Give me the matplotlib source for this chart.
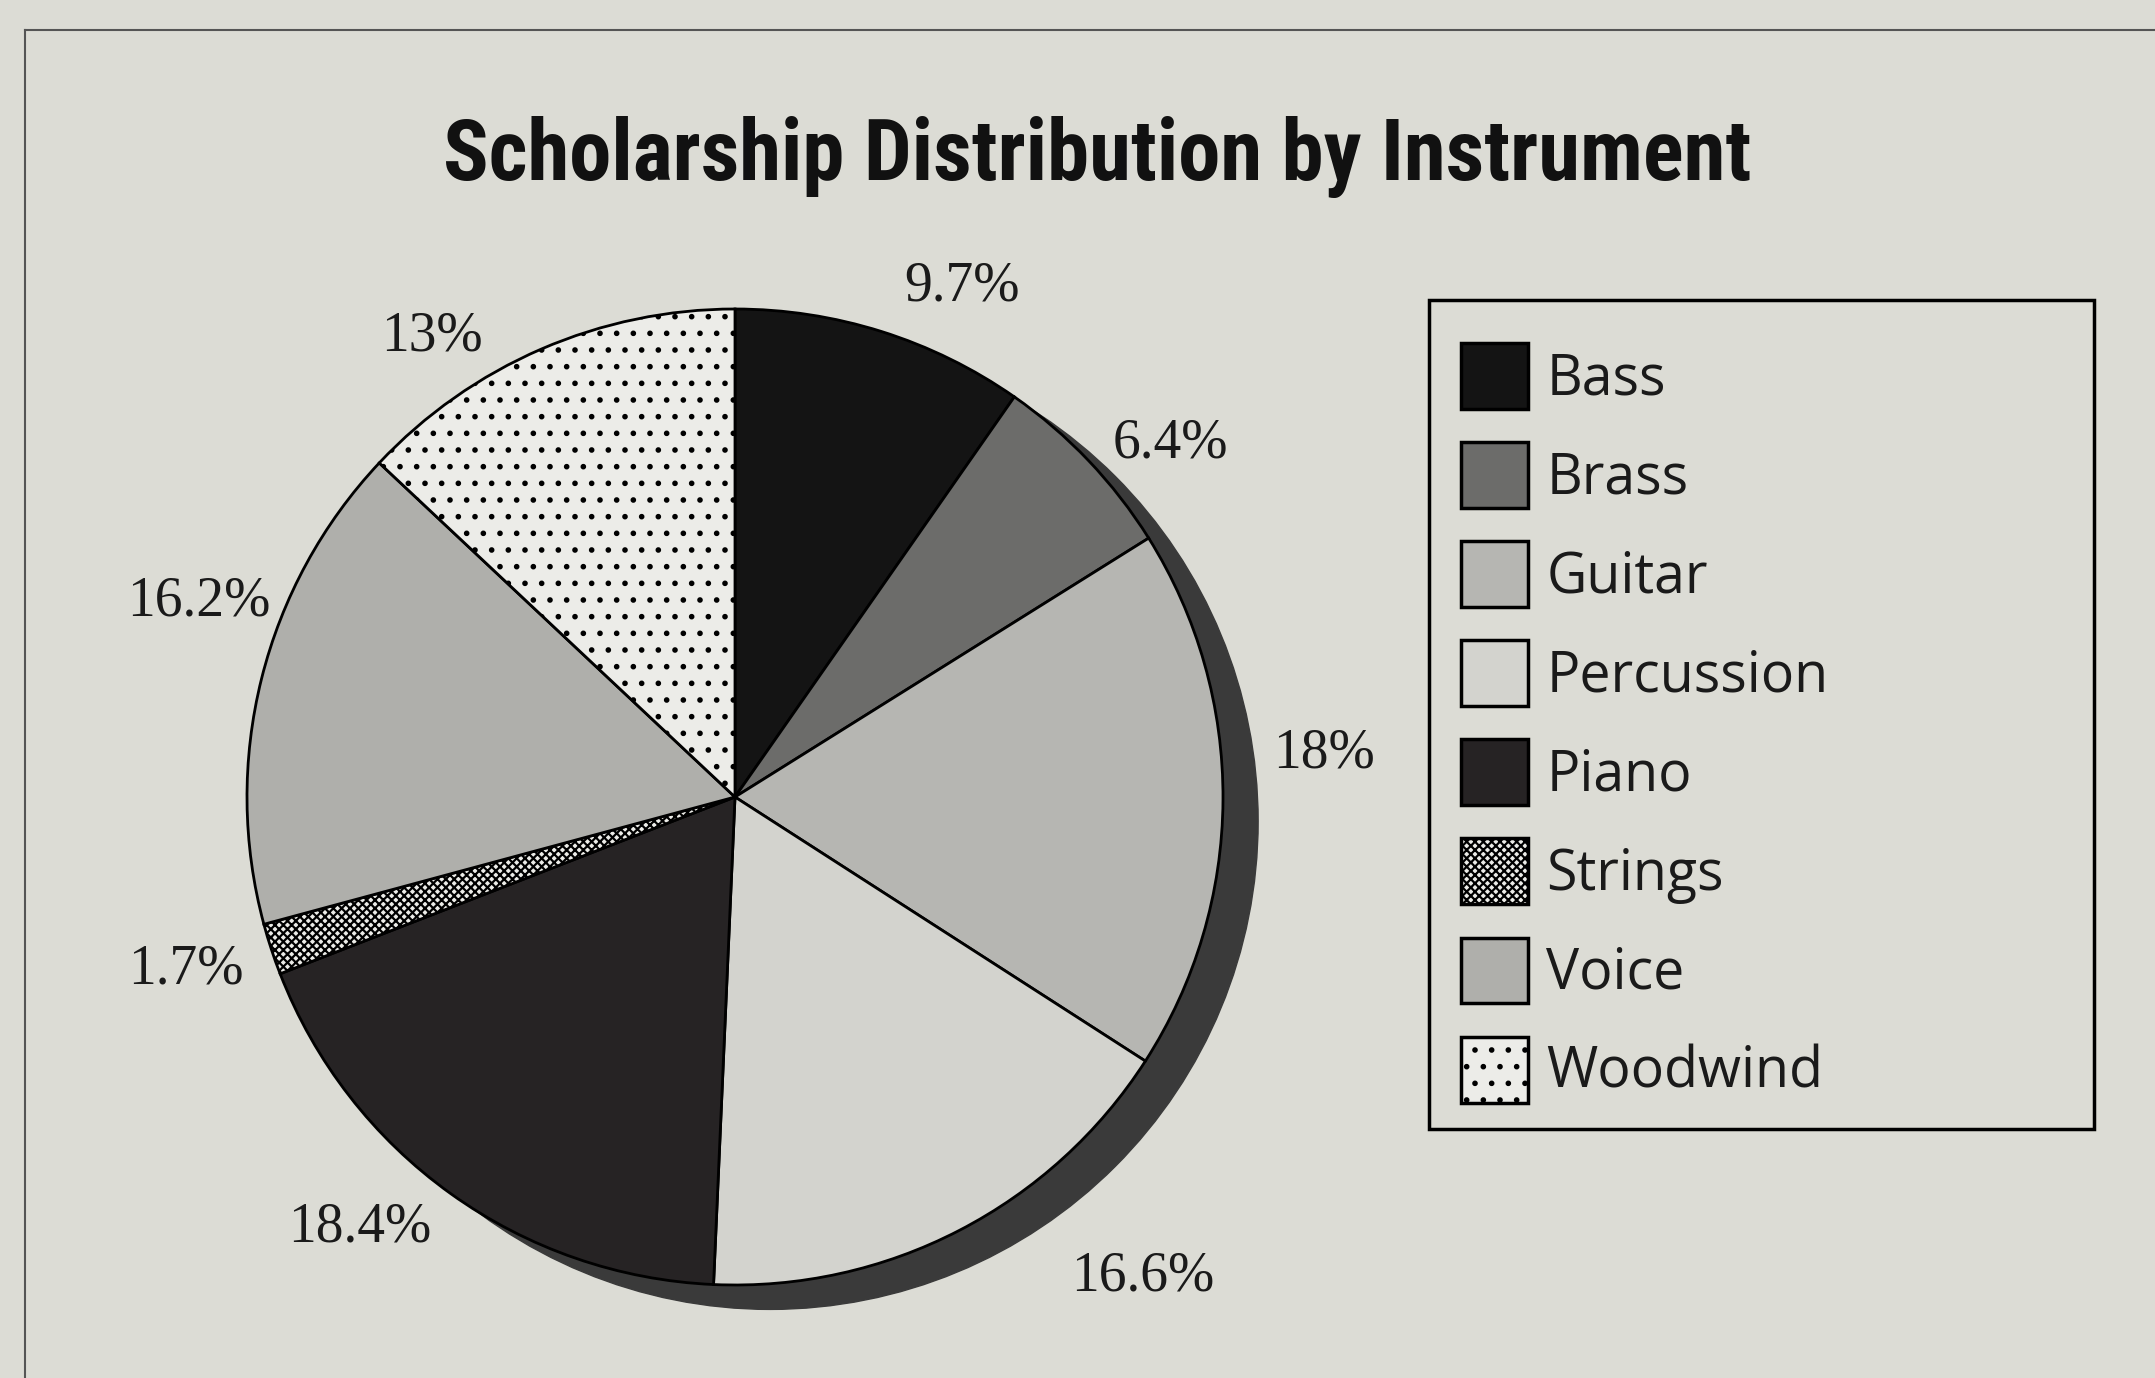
import numpy as np
import matplotlib
matplotlib.use('Agg')
import matplotlib.pyplot as plt
from matplotlib.patches import Circle, Patch, Rectangle
from matplotlib.lines import Line2D

# data
instruments = ['Bass', 'Brass', 'Guitar', 'Percussion', 'Piano', 'Strings', 'Voice', 'Woodwind']
shares = [9.7, 6.4, 18, 16.6, 18.4, 1.7, 16.2, 13]

# style per wedge
fills = ['#141414', '#6c6c6a', '#b6b6b2', '#d3d3ce', '#262324', '#ecece8', '#afafab', '#ecece8']
hatches = [None, None, None, None, None, 'xxxx', None, '.']

# label placement (radius in pie units, nudge in degrees)
lab_r = [1.145, 1.15, 1.21, 1.29, 1.17, 1.18, 1.17, 1.13]
lab_shift = [-6.5, -4.5, 4.6, 13, -5.4, -0.8, -6, 10]

bg = '#dcdcd5'
plt.rcParams['hatch.linewidth'] = 1.6

W, H = 2155, 1378
fig = plt.figure(figsize=(W/100, H/100), dpi=100)
fig.patch.set_facecolor(bg)

R = 488.0
cx, cy = 735, 797
xl, yl = 1.5, 1.15
ax = fig.add_axes([(cx - xl*R)/W, (H - cy - yl*R)/H, 2*xl*R/W, 2*yl*R/H])
ax.set_facecolor(bg)

wedges, _ = ax.pie(shares, colors=fills, startangle=90, counterclock=False,
                   wedgeprops=dict(edgecolor='black', linewidth=2))
for w, h in zip(wedges, hatches):
    if h:
        w.set_hatch(h)

# drop shadow
ax.add_patch(Circle((0.072, -0.05), 1.0, color='#3a3a3a', zorder=0))

for w, s, r, sh in zip(wedges, shares, lab_r, lab_shift):
    a = np.deg2rad((w.theta1 + w.theta2) / 2 + sh)
    ax.text(r*np.cos(a), r*np.sin(a), '{:g}%'.format(s), ha='center', va='center',
            fontsize=40, family=['Liberation Serif', 'DejaVu Serif'], color='#1a1a1a')

ax.set_xlim(-xl, xl)
ax.set_ylim(-yl, yl)
ax.set_aspect('equal', adjustable='box')
ax.axis('off')

fig.text(1097/W, 1 - 157/H, 'Scholarship Distribution by Instrument', ha='center', va='center',
         fontsize=61, fontweight='bold', fontstretch='condensed',
         family=['Liberation Sans Narrow', 'Roboto Condensed', 'DejaVu Sans'],
         color='#111111')

# legend box
fig.add_artist(Rectangle((1429/W, 1 - 1129/H), 665/W, 829/H, transform=fig.transFigure,
                         facecolor='none', edgecolor='black', linewidth=2.5))
handles = [Patch(facecolor=c, edgecolor='black', linewidth=2.5, hatch=h) for c, h in zip(fills, hatches)]
leg = fig.legend(handles, instruments, loc='upper left', bbox_to_anchor=(1428/W, 1 - 310/H),
                 bbox_transform=fig.transFigure, borderaxespad=0,
                 prop=dict(family=['Open Sans', 'DejaVu Sans'], size=40),
                 handlelength=1.2, handleheight=1.45, handletextpad=0.33,
                 labelspacing=0.595, borderpad=0.6, frameon=False)
for t in leg.get_texts():
    t.set_color('#1a1a1a')

# outer frame of the scanned page
fig.add_artist(Line2D([25/W, 25/W], [0, 1 - 30/H], transform=fig.transFigure, color='#555555', lw=1.5))
fig.add_artist(Line2D([25/W, 1], [1 - 30/H, 1 - 30/H], transform=fig.transFigure, color='#555555', lw=1.5))

fig.savefig('out.png', dpi=100, facecolor=bg)
